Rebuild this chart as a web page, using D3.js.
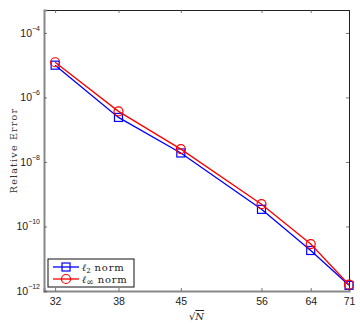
<!DOCTYPE html>
<html>
<head>
<meta charset="utf-8">
<script src="https://cdnjs.cloudflare.com/ajax/libs/d3/7.8.5/d3.min.js"></script>
<style>
  body { margin: 0; background: #fff; }
  svg { display: block; }
</style>
</head>
<body>
<div id="chart"></div>
<script>
// Data
var sqrtN = [32, 38, 45, 56, 64, 71]
var l2Err = [1.0e-5, 2.4e-7, 1.9e-8, 3.4e-10, 1.8e-11, 1.5e-12]
var lInfErr = [1.23e-5, 3.7e-7, 2.5e-8, 4.9e-10, 2.85e-11, 1.57e-12]
var xTicks = [32, 38, 45, 56, 64, 71]
var yTickExp = [-12, -10, -8, -6, -4]

// Dimensions
var width = 360
var height = 324
var margin = { top: 10, right: 11, bottom: 33, left: 44 }
var chartWidth = width - margin.left - margin.right
var chartHeight = height - margin.top - margin.bottom

var svg = d3.select('#chart').append('svg')
  .attr('width', width)
  .attr('height', height)

var g = svg.append('g')
  .attr('transform', 'translate(' + margin.left + ',' + margin.top + ')')

// Scales
var x = d3.scaleLog().domain([31.05, 71]).range([0, chartWidth])
var y = d3.scaleLog().domain([1e-12, Math.pow(10, -3.29)]).range([chartHeight, 0])

var tickLen = 3

// Ticks on all four sides, pointing inward
var xAxisB = d3.axisBottom(x).tickValues(xTicks).tickSize(-tickLen).tickFormat(d3.format('d')).tickPadding(7)
var xAxisT = d3.axisTop(x).tickValues(xTicks).tickSize(-tickLen).tickFormat('')
var yVals = yTickExp.map(function (e) { return Math.pow(10, e) })
var yAxisL = d3.axisLeft(y).tickValues(yVals).tickSize(-tickLen).tickFormat('')
var yAxisR = d3.axisRight(y).tickValues(yVals).tickSize(-tickLen).tickFormat('')

function styleAxis(sel, color, w) {
  sel.select('.domain').attr('stroke', color).attr('stroke-width', w)
  sel.selectAll('.tick line').attr('stroke', '#555').attr('stroke-width', 0.8)
}

var gxT = g.append('g').call(xAxisT)
styleAxis(gxT, '#222', 1)
var gyR = g.append('g').attr('transform', 'translate(' + chartWidth + ',0)').call(yAxisR)
styleAxis(gyR, '#222', 1)
var gxB = g.append('g').attr('transform', 'translate(0,' + chartHeight + ')').call(xAxisB)
styleAxis(gxB, '#888', 2)
gxB.selectAll('.tick text')
  .attr('font-family', 'Liberation Sans, Arial, sans-serif')
  .attr('font-size', 10.5)
  .attr('fill', '#222')
var gyL = g.append('g').call(yAxisL)
styleAxis(gyL, '#888', 2)

// Y tick labels 10^e
yTickExp.forEach(function (e) {
  var t = gyL.append('text')
    .attr('x', -4)
    .attr('y', y(Math.pow(10, e)) + 4)
    .attr('text-anchor', 'end')
    .attr('font-family', 'Liberation Sans, Arial, sans-serif')
    .attr('fill', '#222')
  t.append('tspan').attr('font-size', 10.5).text('10')
  t.append('tspan').attr('font-size', 7).attr('dy', -6).text('\u2212' + Math.abs(e))
})

// Lines
var series = [
  { name: 'l2', values: l2Err, color: '#0000ff', marker: 'square' },
  { name: 'linf', values: lInfErr, color: '#ff0000', marker: 'circle' }
]

var line = d3.line()
  .x(function (d) { return x(d[0]) })
  .y(function (d) { return y(d[1]) })

function drawMarker(sel, type, color, cx, cy) {
  if (type === 'square') {
    sel.append('rect')
      .attr('x', cx - 4).attr('y', cy - 4)
      .attr('width', 8).attr('height', 8)
      .attr('fill', 'none').attr('stroke', color).attr('stroke-width', 1.2)
  } else {
    sel.append('circle')
      .attr('cx', cx).attr('cy', cy).attr('r', 4.5)
      .attr('fill', 'none').attr('stroke', color).attr('stroke-width', 1.2)
  }
}

series.forEach(function (s) {
  var pts = sqrtN.map(function (v, i) { return [v, s.values[i]] })
  g.append('path')
    .datum(pts)
    .attr('fill', 'none')
    .attr('stroke', s.color)
    .attr('stroke-width', 1.3)
    .attr('d', line)
  var gm = g.append('g')
  pts.forEach(function (p) {
    drawMarker(gm, s.marker, s.color, x(p[0]), y(p[1]))
  })
})

// Axis labels
svg.append('text')
  .attr('transform', 'translate(17,' + (margin.top + chartHeight / 2) + ') rotate(-90)')
  .attr('text-anchor', 'middle')
  .attr('font-family', 'DejaVu Serif, serif')
  .attr('font-size', 9.5)
  .attr('letter-spacing', 1.2)
  .attr('fill', '#333')
  .text('Relative Error')

var xl = svg.append('text')
  .attr('x', margin.left + chartWidth / 2)
  .attr('y', 320)
  .attr('text-anchor', 'middle')
  .attr('font-family', 'DejaVu Serif, serif')
  .attr('font-size', 10)
  .attr('fill', '#222')
xl.append('tspan').text('\u221A')
xl.append('tspan').attr('font-style', 'italic').attr('text-decoration', 'overline').text('N')

// Legend
var legend = svg.append('g').attr('transform', 'translate(48,259)')
legend.append('rect')
  .attr('width', 86).attr('height', 28)
  .attr('fill', '#fff').attr('stroke', '#111').attr('stroke-width', 1)

var legendLabels = [['\u2113', '2', 7], ['\u2113', '\u221E', 9]]
series.forEach(function (s, i) {
  var ly = 8 + i * 12
  legend.append('line')
    .attr('x1', 5).attr('x2', 31).attr('y1', ly).attr('y2', ly)
    .attr('stroke', s.color).attr('stroke-width', 1.3)
  drawMarker(legend, s.marker, s.color, 18, ly)
  var t = legend.append('text')
    .attr('x', 34).attr('y', ly + 3.5)
    .attr('font-family', 'DejaVu Serif, serif')
    .attr('font-size', 10)
    .attr('fill', '#222')
  t.append('tspan').attr('font-style', 'italic').text(legendLabels[i][0])
  t.append('tspan').attr('font-size', legendLabels[i][2]).attr('dy', 2.5).text(legendLabels[i][1])
  t.append('tspan').attr('dy', -2.5).attr('letter-spacing', 0.8).text(' norm')
})
</script>
</body>
</html>
